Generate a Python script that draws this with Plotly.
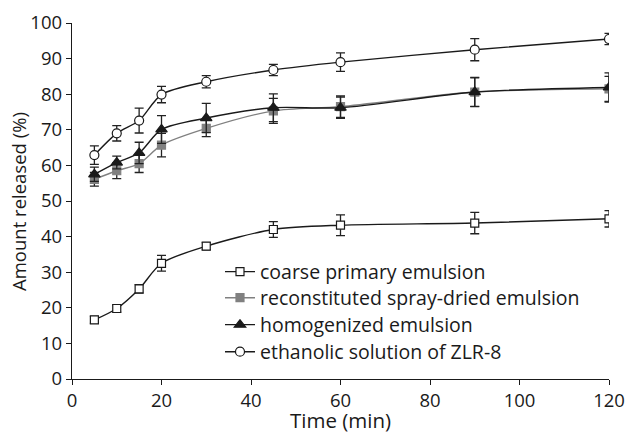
import plotly.graph_objects as go

time = [5, 10, 15, 20, 30, 45, 60, 90, 120]

coarse = [16.6, 19.8, 25.3, 32.5, 37.3, 42.0, 43.2, 43.8, 45.0]
coarse_err = [1.0, 1.0, 1.2, 2.2, 1.0, 2.2, 2.9, 3.0, 2.3]

recon = [56.1, 58.5, 60.5, 65.7, 70.4, 75.3, 76.5, 80.6, 81.5]
recon_err = [1.9, 2.2, 2.5, 3.3, 2.3, 3.5, 3.0, 4.0, 3.5]

homog = [57.5, 60.8, 63.5, 70.1, 73.3, 76.2, 76.2, 80.6, 81.9]
homog_err = [2.0, 1.8, 3.0, 3.9, 4.1, 3.9, 3.0, 4.1, 4.1]

ethanol = [62.9, 69.0, 72.6, 79.9, 83.5, 86.8, 89.0, 92.5, 95.5]
ethanol_err = [2.6, 2.15, 3.5, 2.3, 1.7, 1.6, 2.6, 3.1, 1.6]

names = ["coarse primary emulsion", "reconstituted spray-dried emulsion",
         "homogenized emulsion", "ethanolic solution of ZLR-8"]

x_ticks = [0, 20, 40, 60, 80, 100, 120]
y_ticks = list(range(0, 101, 10))

FONT = "Open Sans"
INK = "#1a1a1a"

fig = go.Figure()

def add(y, err, name, color, symbol, size, fill, legend):
    fig.add_trace(go.Scatter(
        x=time, y=y, name=name, mode="lines+markers", legend=legend,
        line=dict(color=color, width=1.4, shape="spline", smoothing=0.8),
        marker=dict(symbol=symbol, size=size, color=fill,
                    line=dict(color=color, width=1.2)),
        error_y=dict(type="data", array=err, visible=True, color="#222222",
                     thickness=1.3, width=4.5),
    ))

add(coarse, coarse_err, names[0], INK, "square", 8, "white", "legend")
add(recon, recon_err, names[1], "#808080", "square", 8, "#808080", "legend2")
add(homog, homog_err, names[2], INK, "triangle-up", 10, INK, "legend3")
add(ethanol, ethanol_err, names[3], INK, "circle", 9, "white", "legend4")

axis_common = dict(showline=True, linecolor=INK, linewidth=1.4,
                   ticks="outside", ticklen=5, tickwidth=1.3, tickcolor=INK,
                   showgrid=False, zeroline=False, automargin=False,
                   tickfont=dict(family=FONT, size=18.5, color=INK))

def leg(y):
    return dict(x=0.2756, y=y, xanchor="left", yanchor="middle",
                font=dict(family=FONT, size=19.5, color=INK),
                bgcolor="rgba(0,0,0,0)", itemwidth=30)

fig.update_layout(
    width=631, height=432,
    margin=dict(l=72, r=22, t=23, b=53),
    paper_bgcolor="white", plot_bgcolor="white",
    showlegend=True,
    legend=leg(0.3006), legend2=leg(0.2275), legend3=leg(0.1517), legend4=leg(0.0758),
    xaxis=dict(range=[0, 120], tickvals=x_ticks, **axis_common),
    yaxis=dict(range=[0, 100], tickvals=y_ticks, **axis_common),
    annotations=[
        dict(text="Time (min)", xref="paper", yref="paper", x=0.5, y=-0.1138,
             yanchor="middle", xanchor="center", showarrow=False,
             font=dict(family=FONT, size=20.5, color=INK)),
        dict(text="Amount released (%)", xref="paper", yref="paper", x=-0.1006, y=0.5,
             xanchor="center", yanchor="middle", textangle=-90, showarrow=False,
             font=dict(family=FONT, size=18.5, color=INK)),
    ],
)

fig.write_html(
    "out.html",
    config={"displayModeBar": False},
    post_script="document.body.style.margin='0';document.body.style.overflow='hidden';",
)
